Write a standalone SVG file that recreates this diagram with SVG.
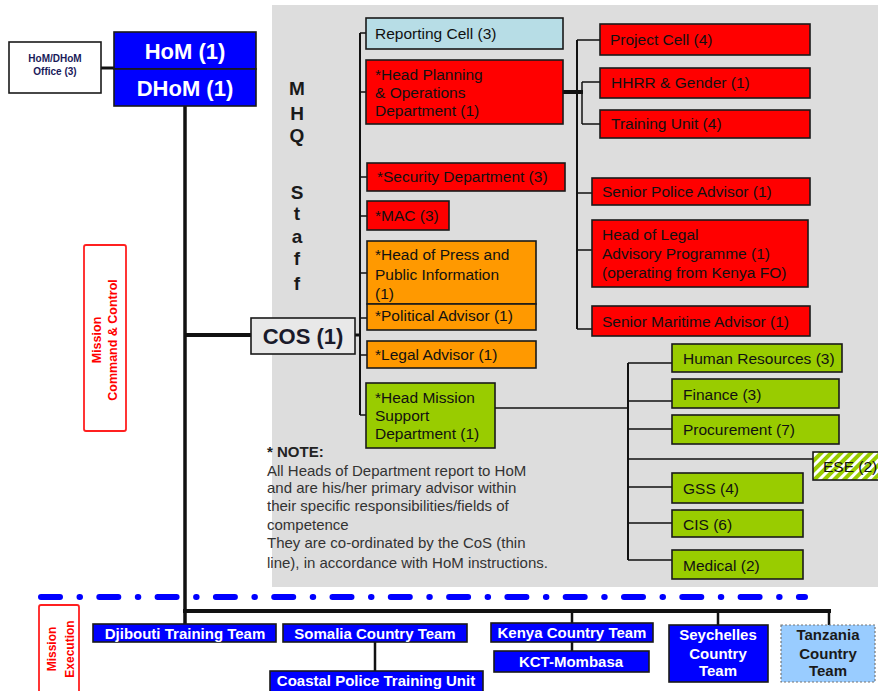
<svg xmlns="http://www.w3.org/2000/svg" width="878" height="691" viewBox="0 0 878 691">
<style>
text{font-family:"Liberation Sans",Arial,sans-serif;}
.bx{stroke:#1a1a1a;stroke-width:1.6;}
.red{fill:#FF0000;}
.org{fill:#FF9900;}
.grn{fill:#99CC00;}
.blu{fill:#0000FF;}
.t{font-size:15.5px;fill:#111;}
.tw{font-size:15px;fill:#fff;font-weight:bold;text-anchor:middle;}
.big{font-size:22px;fill:#fff;font-weight:bold;text-anchor:middle;}
.mhq{font-size:19px;font-weight:bold;fill:#1a1a1a;text-anchor:middle;}
.note{font-size:15px;fill:#333;}
.lab{font-weight:bold;fill:#FF0000;text-anchor:middle;}
.c{stroke:#111;fill:none;}
</style>
<defs>
<pattern id="hatch" patternUnits="userSpaceOnUse" width="7" height="7" patternTransform="rotate(45)">
<rect width="7" height="7" fill="#99CC00"/>
<rect width="3" height="7" fill="#ffffff"/>
</pattern>
</defs>
<rect x="0" y="0" width="878" height="691" fill="#fff"/>
<rect x="272" y="5" width="606" height="582" fill="#DDDDDD"/>

<g id="connectors">
<line class="c" x1="101" y1="68" x2="114" y2="68" stroke-width="3"/>
<line class="c" x1="185" y1="106" x2="185" y2="624" stroke-width="3.5"/>
<line class="c" x1="185" y1="335" x2="251" y2="335" stroke-width="4"/>
<line class="c" x1="355" y1="335" x2="361" y2="335" stroke-width="3"/>
<line class="c" x1="360" y1="33" x2="360" y2="415" stroke-width="2"/>
<path class="c" stroke-width="1.5" d="M360 33H366M360 92H366M360 177H367M360 216H367M360 273H367M360 318H367M360 355H367M360 415H366"/>
<line class="c" x1="555" y1="92" x2="583" y2="92" stroke-width="4"/>
<line class="c" x1="577" y1="40" x2="577" y2="329" stroke-width="2"/>
<line class="c" x1="582" y1="82" x2="582" y2="124" stroke-width="1.5"/>
<path class="c" stroke-width="1.5" d="M577 40H600M582 82H600M582 124H600M577 193H592M577 250H592M577 329H592"/>
<line class="c" x1="495" y1="408" x2="628" y2="408" stroke-width="1.5"/>
<line class="c" x1="628" y1="363" x2="628" y2="560" stroke-width="2"/>
<path class="c" stroke-width="1.5" d="M628 363H672M628 401H672M628 429H672M628 459H813M628 487H672M628 523H672M628 560H672"/>
<line x1="41" y1="597" x2="805" y2="597" stroke="#0000FF" stroke-width="6" stroke-linecap="round" stroke-dasharray="19 19.5 0.5 19.3"/>
<line class="c" x1="183" y1="611" x2="831" y2="611" stroke-width="4"/>
<path class="c" stroke-width="2.5" d="M572 611V623M572 642V651M718 611V625M829 611V625M375 642V671"/>
</g>

<g id="hom-office"><rect class="bx" x="9" y="42" width="92" height="51" fill="#fff"/>
<text x="55" y="62" font-size="10" font-weight="bold" fill="#1a1a5a" text-anchor="middle">HoM/DHoM</text>
<text x="55" y="75" font-size="10" font-weight="bold" fill="#1a1a5a" text-anchor="middle">Office (3)</text></g>
<g id="hom"><rect class="bx blu" x="114" y="32" width="142" height="37"/><text class="big" x="185" y="59">HoM (1)</text></g>
<g id="dhom"><rect class="bx blu" x="114" y="69" width="142" height="37"/><text class="big" x="185" y="96">DHoM (1)</text></g>

<g id="mission-cc"><rect x="84" y="245" width="42" height="186" rx="2" fill="#fff" stroke="#FF2020" stroke-width="1.8"/>
<text class="lab" font-size="12.5" transform="translate(101,340) rotate(-90)">Mission</text>
<text class="lab" font-size="12.5" transform="translate(117,340) rotate(-90)">Command &amp; Control</text></g>

<g id="mhq-label">
<text class="mhq" x="297" y="95">M</text>
<text class="mhq" x="297" y="120">H</text>
<text class="mhq" x="297" y="142">Q</text>
<text class="mhq" x="297" y="199">S</text>
<text class="mhq" x="297" y="220">t</text>
<text class="mhq" x="297" y="243">a</text>
<text class="mhq" x="297" y="265">f</text>
<text class="mhq" x="297" y="290">f</text>
</g>

<g id="cos"><rect class="bx" x="251" y="318" width="104" height="36" fill="#E8E8E8"/><text x="303" y="344" font-size="22" font-weight="bold" fill="#1a1a2a" text-anchor="middle">COS (1)</text></g>

<g id="reporting-cell"><rect class="bx" x="366" y="18" width="197" height="31" fill="#B7DDE6"/><text class="t" x="375" y="39">Reporting Cell (3)</text></g>
<g id="head-planning"><rect class="bx red" x="366" y="60" width="197" height="64"/><text class="t" x="375" y="80">*Head Planning</text><text class="t" x="375" y="98">&amp; Operations</text><text class="t" x="375" y="116">Department (1)</text></g>
<g id="security"><rect class="bx red" x="367" y="163" width="198" height="28"/><text class="t" x="377" y="182">*Security Department (3)</text></g>
<g id="mac"><rect class="bx red" x="367" y="201" width="82" height="29"/><text class="t" x="375" y="221">*MAC (3)</text></g>
<g id="press"><rect class="bx org" x="367" y="241" width="169" height="63"/><text class="t" x="375" y="260">*Head of Press and</text><text class="t" x="375" y="280">Public Information</text><text class="t" x="375" y="299">(1)</text></g>
<g id="political"><rect class="bx org" x="367" y="304" width="169" height="26"/><text class="t" x="375" y="321">*Political Advisor (1)</text></g>
<g id="legal"><rect class="bx org" x="367" y="341" width="169" height="27"/><text class="t" x="375" y="360">*Legal Advisor (1)</text></g>
<g id="mission-support"><rect class="bx grn" x="366" y="383" width="129" height="65"/><text class="t" x="375" y="403">*Head Mission</text><text class="t" x="375" y="421">Support</text><text class="t" x="375" y="439">Department (1)</text></g>

<g id="project-cell"><rect class="bx red" x="600" y="24" width="210" height="31"/><text class="t" x="610" y="45">Project Cell (4)</text></g>
<g id="hhrr"><rect class="bx red" x="600" y="68" width="210" height="30"/><text class="t" x="611" y="88">HHRR &amp; Gender (1)</text></g>
<g id="training-unit"><rect class="bx red" x="600" y="110" width="210" height="28"/><text class="t" x="611" y="129">Training Unit (4)</text></g>
<g id="police-advisor"><rect class="bx red" x="592" y="178" width="218" height="27"/><text class="t" x="602" y="197">Senior Police Advisor (1)</text></g>
<g id="legal-programme"><rect class="bx red" x="592" y="220" width="216" height="67"/><text class="t" x="602" y="240">Head of Legal</text><text class="t" x="602" y="259">Advisory Programme (1)</text><text class="t" x="602" y="278">(operating from Kenya FO)</text></g>
<g id="maritime-advisor"><rect class="bx red" x="592" y="306" width="218" height="30"/><text class="t" x="602" y="327">Senior Maritime Advisor (1)</text></g>

<g id="hr"><rect class="bx grn" x="672" y="344" width="170" height="28"/><text class="t" x="683" y="364">Human Resources (3)</text></g>
<g id="finance"><rect class="bx grn" x="672" y="379" width="167" height="29"/><text class="t" x="683" y="400">Finance (3)</text></g>
<g id="procurement"><rect class="bx grn" x="672" y="415" width="167" height="29"/><text class="t" x="683" y="435">Procurement (7)</text></g>
<g id="ese"><rect class="bx" x="813" y="452" width="70" height="28" fill="url(#hatch)"/><text class="t" x="823" y="472">ESE (2)</text></g>
<g id="gss"><rect class="bx grn" x="672" y="473" width="131" height="30"/><text class="t" x="683" y="494">GSS (4)</text></g>
<g id="cis"><rect class="bx grn" x="672" y="510" width="131" height="27"/><text class="t" x="683" y="530">CIS (6)</text></g>
<g id="medical"><rect class="bx grn" x="672" y="550" width="131" height="29"/><text class="t" x="683" y="571">Medical (2)</text></g>

<g id="note">
<text x="267" y="457" font-size="15" font-weight="bold" fill="#222">* NOTE:</text>
<text class="note" x="267" y="476">All Heads of Department report to HoM</text>
<text class="note" x="267" y="493">and are his/her primary advisor within</text>
<text class="note" x="267" y="511">their specific responsibilities/fields of</text>
<text class="note" x="267" y="530">competence</text>
<text class="note" x="267" y="548">They are co-ordinated by the CoS (thin</text>
<text class="note" x="267" y="568">line), in accordance with HoM instructions.</text>
</g>

<g id="mission-exec"><rect x="39" y="605" width="40" height="90" rx="2" fill="#fff" stroke="#FF2020" stroke-width="1.8"/>
<text class="lab" font-size="12" transform="translate(56,649) rotate(-90)">Mission</text>
<text class="lab" font-size="12" transform="translate(74,649) rotate(-90)">Execution</text></g>

<g id="djibouti"><rect class="bx blu" x="93" y="624" width="183" height="18"/><text class="tw" x="185" y="639">Djibouti Training Team</text></g>
<g id="somalia"><rect class="bx blu" x="283" y="624" width="184" height="18"/><text class="tw" x="375" y="639">Somalia Country Team</text></g>
<g id="coastal"><rect class="bx blu" x="270" y="671" width="213" height="22"/><text class="tw" x="376" y="686">Coastal Police Training Unit</text></g>
<g id="kenya"><rect class="bx blu" x="491" y="623" width="162" height="19"/><text class="tw" x="572" y="638">Kenya Country Team</text></g>
<g id="kct"><rect class="bx blu" x="494" y="651" width="155" height="21"/><text class="tw" x="571" y="667">KCT-Mombasa</text></g>
<g id="seychelles"><rect class="bx blu" x="669" y="625" width="99" height="57"/><text class="tw" x="718" y="640">Seychelles</text><text class="tw" x="718" y="659">Country</text><text class="tw" x="718" y="676">Team</text></g>
<g id="tanzania"><rect x="781" y="625" width="94" height="57" fill="#99CCFF" stroke="#777" stroke-width="1.2" stroke-dasharray="2 2"/><text class="tw" x="828" y="640" style="fill:#1a1a1a">Tanzania</text><text class="tw" x="828" y="659" style="fill:#1a1a1a">Country</text><text class="tw" x="828" y="676" style="fill:#1a1a1a">Team</text></g>
</svg>
